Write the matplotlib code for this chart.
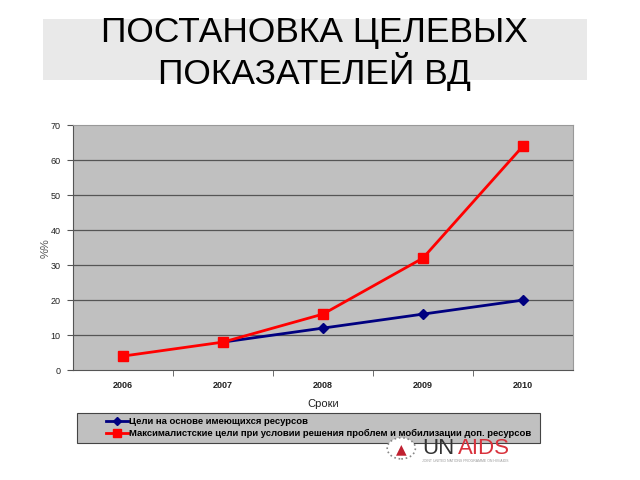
import matplotlib
matplotlib.use("Agg")
import matplotlib.pyplot as plt
from matplotlib.patches import Rectangle, Circle

plt.rcParams['font.family'] = ['Liberation Sans', 'DejaVu Sans']

years = ['2006', '2007', '2008', '2009', '2010']
base_x = [1, 2, 3, 4]
base_vals = [8, 12, 16, 20]
max_vals = [4, 8, 16, 32, 64]
base_label = 'Цели на основе имеющихся ресурсов'
max_label = 'Максималистские цели при условии решения проблем и мобилизации доп. ресурсов'

fig = plt.figure(figsize=(6.4, 4.8), dpi=100)

# title band
fig.patches.append(Rectangle((0.067, 0.833), 0.85, 0.127, transform=fig.transFigure,
                             facecolor='#e9e9e9', edgecolor='none', zorder=0))
fig.text(0.492, 0.888, 'ПОСТАНОВКА ЦЕЛЕВЫХ\nПОКАЗАТЕЛЕЙ ВД', ha='center', va='center',
         fontsize=25.5, linespacing=1.1, color='black')

ax = fig.add_axes([0.114, 0.229, 0.781, 0.510])
ax.set_facecolor('#c0c0c0')
for y in range(10, 70, 10):
    ax.axhline(y, color='#555555', lw=0.9, zorder=1)

ax.plot(base_x, base_vals, color='#000080', lw=2, marker='D', ms=5, zorder=3, label=base_label)
ax.plot(range(len(years)), max_vals, color='#ff0000', lw=2, marker='s', ms=7, zorder=3, label=max_label)

ax.set_xlim(-0.5, len(years) - 0.5)
ax.set_ylim(0, 70)
ax.set_yticks(range(0, 80, 10))
ax.set_xticks(range(len(years)))
ax.set_xticklabels(years, fontsize=6.5, fontweight='bold', color='#222222')
ax.set_xticks([0.5, 1.5, 2.5, 3.5], minor=True)
ax.tick_params(axis='x', which='major', length=0, pad=8)
ax.tick_params(axis='x', which='minor', length=4, color='#555555')
ax.tick_params(axis='y', labelsize=6.5, length=4, color='#555555', labelcolor='#222222', pad=5)
for s in ['top', 'right']:
    ax.spines[s].set_color('#999999')
for s in ['left', 'bottom']:
    ax.spines[s].set_color('#555555')
ax.set_ylabel('%%', fontsize=8, color='#555555', labelpad=0)
ax.set_xlabel('Сроки', fontsize=8, color='#222222', labelpad=6)

# legend box
fig.patches.append(Rectangle((0.120, 0.077), 0.724, 0.0625, transform=fig.transFigure,
                             facecolor='#c0c0c0', edgecolor='#444444', lw=0.8, zorder=0))
h, l = ax.get_legend_handles_labels()
fig.legend(h, l, loc='center left', bbox_to_anchor=(0.166, 0.109), frameon=False,
           prop={'size': 6.8, 'weight': 'bold'}, handlelength=2.3, handletextpad=0.1,
           labelspacing=0.3, borderpad=0, borderaxespad=0, markerscale=0.8)

# logo
fig.patches.append(Circle((0.627, 0.066), 0.022, transform=fig.transFigure, facecolor='white',
                          edgecolor='#888888', lw=1.2, ls=':'))
fig.text(0.627, 0.064, '▲', fontsize=10, color='#c02030', va='center', ha='center', family='DejaVu Sans')
fig.text(0.659, 0.066, 'UN', fontsize=16, color='#333333', va='center', ha='left')
fig.text(0.715, 0.066, 'AIDS', fontsize=16, color='#d9323c', va='center', ha='left')
fig.text(0.66, 0.040, 'JOINT UNITED NATIONS PROGRAMME ON HIV/AIDS', fontsize=2.5, color='#999999',
         va='center', ha='left')

fig.savefig('out.png', dpi=100)
